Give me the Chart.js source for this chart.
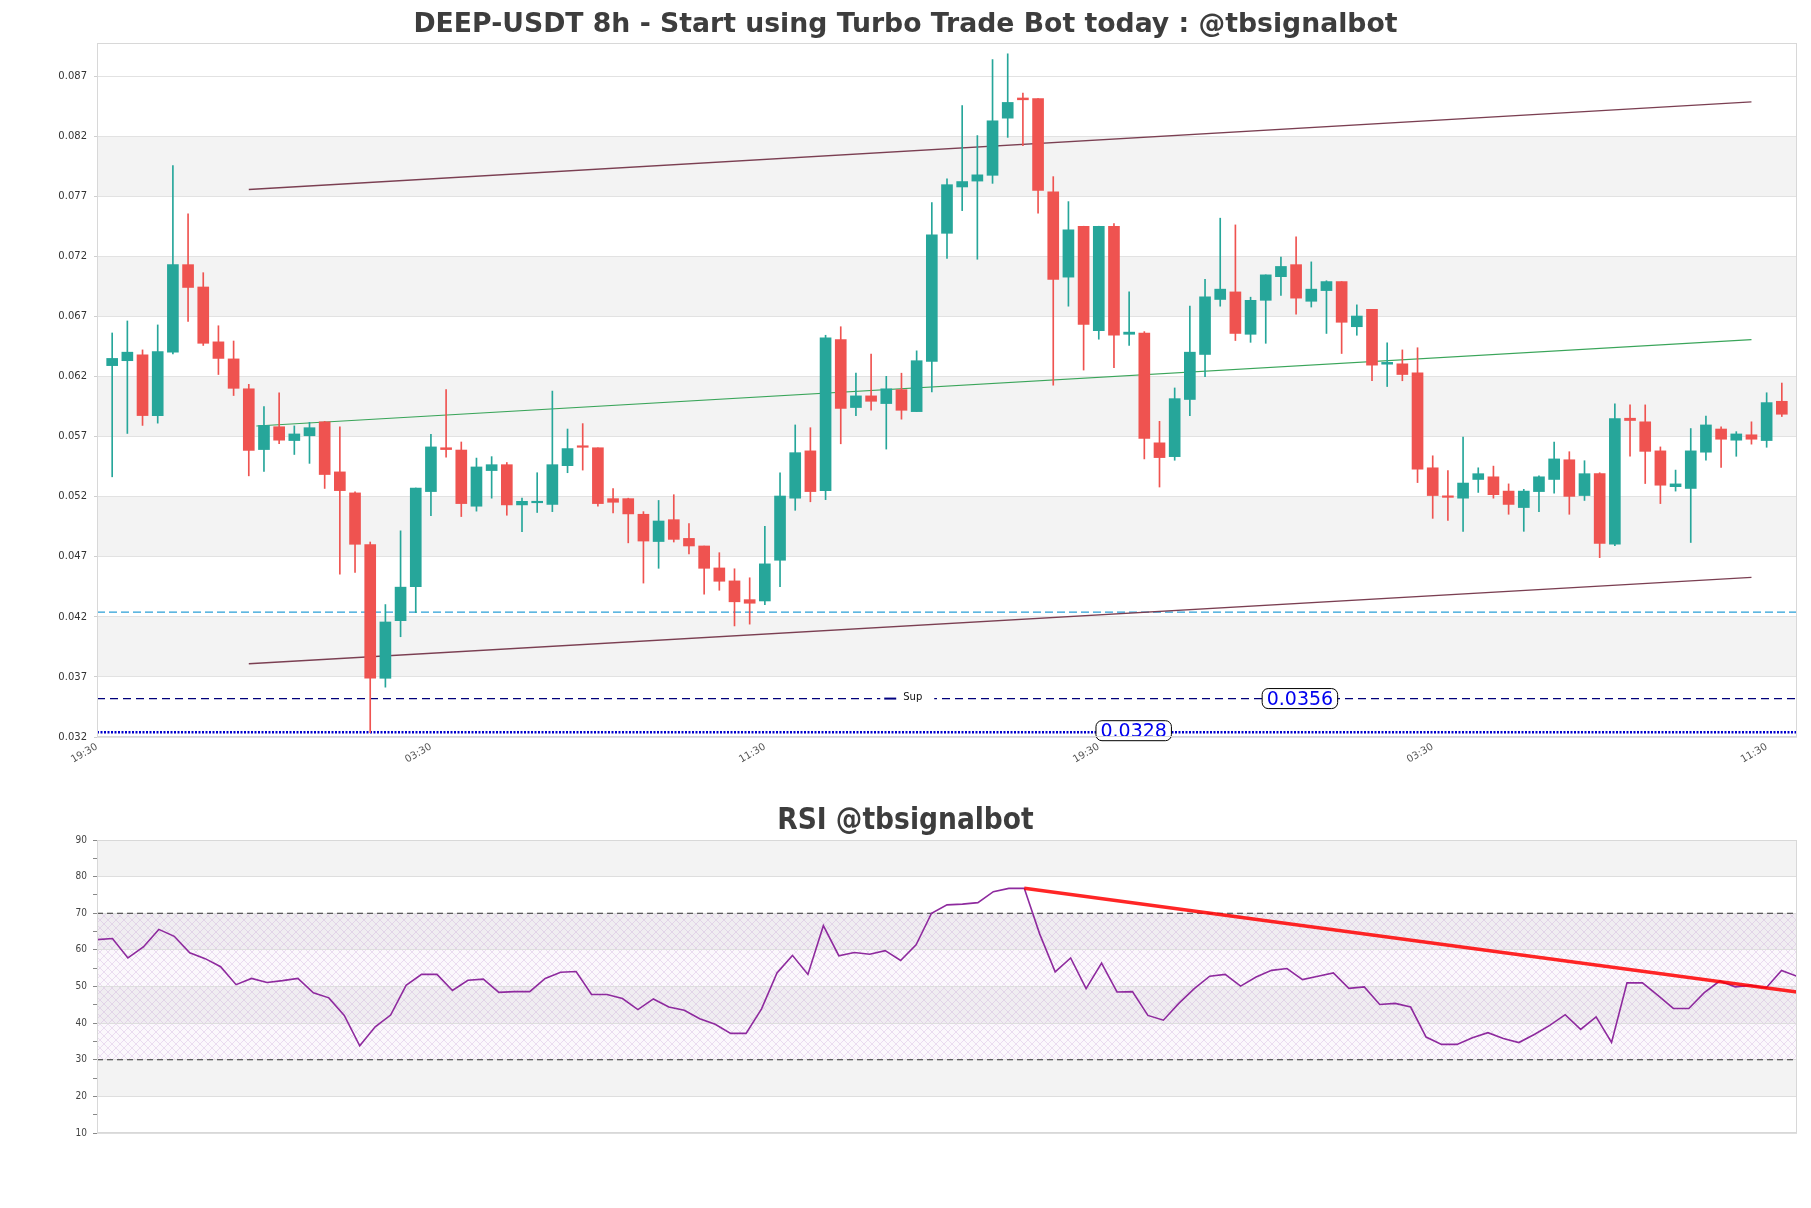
<!DOCTYPE html>
<html lang="en">
<head>
<meta charset="UTF-8">
<title>DEEP-USDT 8h</title>
<style>
    body { margin: 0; background: #fff; }
    .wrap { position: relative; width: 1811px; height: 1208px; }
    canvas { position: absolute; left: 0; }
    #priceChart { top: 0; }
    #rsiChart { top: 780px; }
</style>
<script src="https://cdn.jsdelivr.net/npm/chart.js"></script>
</head>
<body>
<div class="wrap">
    <canvas id="priceChart" width="1811" height="780"></canvas>
    <canvas id="rsiChart" width="1811" height="428"></canvas>
</div>
<script>
    // ---- price data (one candle per 8h) ----
    const opens = [
        0.06333, 0.06374, 0.06423, 0.05917, 0.06445, 0.07174, 0.06988, 0.06531, 0.06389, 0.06140,
        0.05634, 0.05824, 0.05709, 0.05749, 0.05865, 0.05448, 0.05273, 0.04842, 0.03729, 0.04209,
        0.04492, 0.05284, 0.05649, 0.05630, 0.05162, 0.05459, 0.05508, 0.05173, 0.05191, 0.05177,
        0.05500, 0.05664, 0.05649, 0.05225, 0.05225, 0.05095, 0.04868, 0.05050, 0.04894, 0.04831,
        0.04648, 0.04540, 0.04384, 0.04373, 0.04712, 0.05229, 0.05623, 0.05292, 0.06549, 0.05984,
        0.06081, 0.06017, 0.06133, 0.05950, 0.06367, 0.07435, 0.07821, 0.07870, 0.07918, 0.08394,
        0.08562, 0.08558, 0.07781, 0.07070, 0.07494, 0.06624, 0.07494, 0.06594, 0.06605, 0.05690,
        0.05575, 0.06051, 0.06426, 0.06884, 0.06947, 0.06594, 0.06877, 0.07074, 0.07174, 0.06869,
        0.06958, 0.07033, 0.06657, 0.06802, 0.06345, 0.06348, 0.06274, 0.05482, 0.05247, 0.05229,
        0.05385, 0.05407, 0.05288, 0.05151, 0.05284, 0.05385, 0.05549, 0.05251, 0.05433, 0.04845,
        0.05895, 0.05865, 0.05623, 0.05325, 0.05310, 0.05612, 0.05805, 0.05712, 0.05757, 0.05709,
        0.06036
    ];
    const highs = [
        0.06605, 0.06705, 0.06464, 0.06672, 0.08000, 0.07598, 0.07107, 0.06665, 0.06538, 0.06177,
        0.05991, 0.06107, 0.05831, 0.05861, 0.05869, 0.05824, 0.05281, 0.04864, 0.04343, 0.04957,
        0.05314, 0.05761, 0.06133, 0.05697, 0.05563, 0.05575, 0.05526, 0.05229, 0.05441, 0.06121,
        0.05805, 0.05850, 0.05649, 0.05310, 0.05229, 0.05117, 0.05210, 0.05258, 0.05017, 0.04831,
        0.04775, 0.04641, 0.04566, 0.04994, 0.05441, 0.05839, 0.05816, 0.06586, 0.06657, 0.06270,
        0.06430, 0.06244, 0.06270, 0.06456, 0.07691, 0.07888, 0.08499, 0.08249, 0.08882, 0.08930,
        0.08603, 0.08558, 0.07907, 0.07699, 0.07494, 0.07494, 0.07516, 0.06947, 0.06616, 0.05869,
        0.06147, 0.06828, 0.07051, 0.07561, 0.07505, 0.06903, 0.07089, 0.07237, 0.07405, 0.07197,
        0.07040, 0.07033, 0.06839, 0.06802, 0.06523, 0.06464, 0.06482, 0.05582, 0.05459, 0.05738,
        0.05482, 0.05496, 0.05348, 0.05303, 0.05415, 0.05697, 0.05616, 0.05541, 0.05441, 0.06014,
        0.06006, 0.06006, 0.05656, 0.05463, 0.05809, 0.05913, 0.05824, 0.05783, 0.05865, 0.06107,
        0.06188
    ];
    const lows = [
        0.05407, 0.05768, 0.05835, 0.05854, 0.06430, 0.06702, 0.06501, 0.06259, 0.06084, 0.05415,
        0.05452, 0.05682, 0.05593, 0.05519, 0.05310, 0.04596, 0.04611, 0.03276, 0.03655, 0.04075,
        0.04276, 0.05084, 0.05571, 0.05076, 0.05121, 0.05229, 0.05087, 0.04950, 0.05110, 0.05117,
        0.05441, 0.05463, 0.05162, 0.05106, 0.04857, 0.04522, 0.04645, 0.04864, 0.04764, 0.04429,
        0.04462, 0.04165, 0.04180, 0.04343, 0.04492, 0.05128, 0.05199, 0.05217, 0.05682, 0.05917,
        0.05961, 0.05638, 0.05887, 0.05950, 0.06114, 0.07226, 0.07624, 0.07219, 0.07851, 0.08234,
        0.08164, 0.07602, 0.06170, 0.06828, 0.06296, 0.06553, 0.06315, 0.06501, 0.05556, 0.05322,
        0.05545, 0.05917, 0.06240, 0.06828, 0.06542, 0.06527, 0.06519, 0.06918, 0.06761, 0.06821,
        0.06601, 0.06434, 0.06586, 0.06207, 0.06159, 0.06207, 0.05359, 0.05061, 0.05043, 0.04953,
        0.05277, 0.05229, 0.05095, 0.04953, 0.05117, 0.05270, 0.05095, 0.05210, 0.04734, 0.04834,
        0.05578, 0.05351, 0.05184, 0.05288, 0.04860, 0.05545, 0.05485, 0.05578, 0.05679, 0.05653,
        0.05909
    ];
    const closes = [
        0.06393, 0.06445, 0.05917, 0.06449, 0.07174, 0.06984, 0.06519, 0.06393, 0.06144, 0.05627,
        0.05835, 0.05712, 0.05764, 0.05816, 0.05426, 0.05292, 0.04845, 0.03729, 0.04198, 0.04488,
        0.05314, 0.05656, 0.05634, 0.05184, 0.05489, 0.05508, 0.05173, 0.05203, 0.05203, 0.05508,
        0.05642, 0.05653, 0.05184, 0.05195, 0.05098, 0.04872, 0.05039, 0.04886, 0.04831, 0.04645,
        0.04537, 0.04366, 0.04354, 0.04682, 0.05247, 0.05608, 0.05284, 0.06564, 0.05976, 0.06081,
        0.06036, 0.06140, 0.05961, 0.06374, 0.07423, 0.07840, 0.07866, 0.07922, 0.08372, 0.08525,
        0.08547, 0.07792, 0.07051, 0.07464, 0.06676, 0.07494, 0.06586, 0.06612, 0.05727, 0.05567,
        0.06058, 0.06445, 0.06906, 0.06970, 0.06601, 0.06877, 0.07089, 0.07159, 0.06895, 0.06970,
        0.07033, 0.06694, 0.06746, 0.06337, 0.06360, 0.06259, 0.05470, 0.05251, 0.05236, 0.05355,
        0.05433, 0.05258, 0.05177, 0.05288, 0.05407, 0.05556, 0.05244, 0.05433, 0.04853, 0.05891,
        0.05876, 0.05619, 0.05337, 0.05348, 0.05623, 0.05839, 0.05720, 0.05764, 0.05720, 0.06025,
        0.05928
    ];

    const timeTicks = [0, 22, 44, 66, 88, 110];
    const timeLabels = ['19:30', '03:30', '11:30', '19:30', '03:30', '11:30'];
    const priceTicks = [0.0324, 0.0374, 0.0424, 0.0474, 0.0524, 0.0574, 0.0624, 0.0674, 0.0724, 0.0774, 0.0824, 0.0874];

    // trend channel + levels
    const upperChannel = [{ x: 10, y: 0.0780 }, { x: 109, y: 0.0853 }];
    const lowerChannel = [{ x: 10, y: 0.0385 }, { x: 109, y: 0.0457 }];
    const midChannel = [{ x: 10.5, y: 0.0583 }, { x: 109, y: 0.0655 }];
    const pivotLevel = 0.0428;
    const supLevel = 0.0356;
    const lowLevel = 0.0328;

    // ---- RSI ----
    const rsi = [
        62.8, 63.1, 57.8, 60.8, 65.6, 63.7, 59.2, 57.6, 55.4, 50.5,
        52.2, 51.1, 51.6, 52.2, 48.3, 46.9, 42.1, 33.8, 39.0, 42.2,
        50.3, 53.3, 53.3, 48.9, 51.7, 52.0, 48.4, 48.6, 48.6, 52.2,
        53.9, 54.1, 47.8, 47.8, 46.7, 43.7, 46.6, 44.4, 43.5, 41.2,
        39.7, 37.2, 37.2, 43.9, 53.7, 58.5, 53.3, 66.6, 58.4, 59.3,
        58.8, 59.8, 57.1, 61.4, 70.0, 72.3, 72.5, 72.9, 75.9, 76.8,
        76.8, 64.3, 54.0, 57.8, 49.4, 56.4, 48.5, 48.6, 42.1, 40.8,
        45.4, 49.4, 52.8, 53.3, 50.1, 52.6, 54.4, 54.9, 51.9, 52.8,
        53.7, 49.5, 49.9, 45.1, 45.4, 44.4, 36.2, 34.2, 34.2, 36.0,
        37.4, 35.8, 34.7, 36.9, 39.4, 42.3, 38.3, 41.7, 34.7, 51.0,
        51.0, 47.6, 44.0, 44.0, 48.3, 51.5, 49.9, 50.3, 49.6, 54.4,
        52.8
    ];
    const rsiTrend = [{ x: 60, y: 76.8 }, { x: 110, y: 48.5 }];
    const rsiLevels = [70, 30];
    const rsiBands = [[80, 90], [60, 70], [40, 50], [20, 30]];

    const FONT = "'DejaVu Sans', sans-serif";
    const CONDENSED = "'DejaVu Sans Condensed', 'DejaVu Sans', sans-serif";
    const UP = '#26a69a';
    const DOWN = '#ef5350';

    function lineSet(label, points, color, width, dash, order) {
        return {
            type: 'line', label, data: points,
            borderColor: color, borderWidth: width, borderDash: dash || [],
            pointRadius: 0, fill: false, tension: 0, order: order
        };
    }

    function makeHatch(ctx) {
        const c = document.createElement('canvas');
        c.width = 8; c.height = 8;
        const g = c.getContext('2d');
        g.fillStyle = 'rgba(220,195,230,0.12)';
        g.fillRect(0, 0, 8, 8);
        g.strokeStyle = 'rgba(180,125,200,0.32)';
        g.lineWidth = 0.7;
        g.beginPath();
        g.moveTo(0, 0); g.lineTo(8, 8);
        g.moveTo(8, 0); g.lineTo(0, 8);
        g.stroke();
        return ctx.createPattern(c, 'repeat');
    }

    // shaded bands, frame and title
    const panelPlugin = {
        id: 'panel',
        beforeDraw(chart, args, opts) {
            const { ctx, chartArea: a, scales: { y } } = chart;
            ctx.save();
            ctx.fillStyle = '#f3f3f3';
            opts.ranges.forEach(r => {
                const top = y.getPixelForValue(r[1]);
                const bot = y.getPixelForValue(r[0]);
                ctx.fillRect(a.left, top, a.right - a.left, bot - top);
            });
            if (opts.hatch) {
                const top = y.getPixelForValue(opts.hatch[1]);
                const bot = y.getPixelForValue(opts.hatch[0]);
                ctx.fillStyle = makeHatch(ctx);
                ctx.fillRect(a.left, top, a.right - a.left, bot - top);
            }
            ctx.restore();
        },
        afterDraw(chart, args, opts) {
            const { ctx, chartArea: a } = chart;
            ctx.save();
            ctx.strokeStyle = '#d8d8d8';
            ctx.lineWidth = 1;
            ctx.strokeRect(a.left + 0.5, a.top + 0.5, a.right - a.left - 1, a.bottom - a.top - 1);
            ctx.fillStyle = '#3d3d3d';
            ctx.font = opts.titleFont;
            ctx.textAlign = 'center';
            ctx.textBaseline = 'middle';
            ctx.fillText(opts.title, chart.width / 2, opts.titleY);
            ctx.restore();
        }
    };

    function tag(ctx, text, cx, cy) {
        ctx.font = '19px ' + FONT;
        const w = ctx.measureText(text).width + 9;
        const h = 20;
        ctx.beginPath();
        ctx.roundRect(cx - w / 2, cy - h / 2, w, h, 6);
        ctx.fillStyle = '#fff';
        ctx.fill();
        ctx.strokeStyle = '#000';
        ctx.lineWidth = 1;
        ctx.stroke();
        ctx.fillStyle = '#0000ee';
        ctx.textAlign = 'center';
        ctx.textBaseline = 'middle';
        ctx.fillText(text, cx, cy + 1);
    }

    // "Sup" legend and the value boxes on the support / low lines
    const levelTags = {
        id: 'levelTags',
        afterDatasetsDraw(chart) {
            const { ctx, scales: { x, y } } = chart;
            ctx.save();
            const ys = y.getPixelForValue(supLevel);
            const lx = x.getPixelForValue(51.6);
            ctx.fillStyle = '#fff';
            ctx.fillRect(lx, ys - 8, 54, 16);
            ctx.strokeStyle = '#000080';
            ctx.lineWidth = 2;
            ctx.beginPath();
            ctx.moveTo(lx + 4, ys); ctx.lineTo(lx + 16, ys);
            ctx.stroke();
            ctx.fillStyle = '#111';
            ctx.font = '10px ' + FONT;
            ctx.textAlign = 'left';
            ctx.textBaseline = 'middle';
            ctx.fillText('Sup', lx + 23, ys - 1);
            tag(ctx, supLevel.toFixed(4), x.getPixelForValue(79.25), ys);
            tag(ctx, lowLevel.toFixed(4), x.getPixelForValue(68.3), y.getPixelForValue(lowLevel) - 1.5);
            ctx.restore();
        }
    };

    const candleColors = closes.map((c, i) => c >= opens[i] ? UP : DOWN);

    new Chart(document.getElementById('priceChart'), {
        type: 'bar',
        data: {
            datasets: [
                {
                    type: 'bar', label: 'body',
                    data: closes.map((c, i) => ({ x: i + 1, y: [opens[i], c] })),
                    backgroundColor: candleColors, barThickness: 11, minBarLength: 1.5,
                    grouped: false, order: 0
                },
                {
                    type: 'bar', label: 'wick',
                    data: highs.map((h, i) => ({ x: i + 1, y: [lows[i], h] })),
                    backgroundColor: candleColors, barThickness: 1,
                    grouped: false, order: 1
                },
                lineSet('upper', upperChannel, '#7b3f52', 1.3, null, 2),
                lineSet('lower', lowerChannel, '#7b3f52', 1.3, null, 2),
                lineSet('mid', midChannel, '#3aa55a', 1.2, null, 2),
                lineSet('pivot', [{ x: 0, y: pivotLevel }, { x: 112, y: pivotLevel }], '#2a9fd6', 1.2, [8, 4], 3),
                lineSet('Sup', [{ x: 0, y: supLevel }, { x: 112, y: supLevel }], '#00007a', 1.4, [8, 5], 3),
                lineSet('low', [{ x: 0, y: lowLevel }, { x: 112, y: lowLevel }], '#0000cc', 2.5, [2, 1.5], 3)
            ]
        },
        options: {
            responsive: false,
            animation: false,
            devicePixelRatio: 1,
            layout: { padding: { top: 43, right: 14, bottom: 0, left: 0 } },
            scales: {
                x: {
                    type: 'linear', min: 0, max: 112, offset: false,
                    grid: { display: false, drawTicks: false },
                    border: { display: false },
                    afterBuildTicks: s => { s.ticks = timeTicks.map(v => ({ value: v })); },
                    afterFit: s => { s.height = 43; },
                    ticks: {
                        autoSkip: false, minRotation: 30, maxRotation: 30, padding: 4,
                        color: '#555', font: { size: 10, family: FONT },
                        callback: (v, i) => timeLabels[i]
                    }
                },
                y: {
                    min: 0.0324, max: 0.0902,
                    afterBuildTicks: s => { s.ticks = priceTicks.map(v => ({ value: v })); },
                    afterFit: s => { s.width = 97; },
                    grid: { color: '#e2e2e2', tickLength: 3, tickColor: '#cfcfcf' },
                    border: { display: false },
                    ticks: {
                        padding: 7, color: '#333', font: { size: 10, family: FONT },
                        callback: v => v.toFixed(3)
                    }
                }
            },
            plugins: {
                legend: { display: false },
                tooltip: { enabled: false },
                panel: {
                    ranges: [[priceTicks[1], priceTicks[2]], [priceTicks[3], priceTicks[4]], [priceTicks[5], priceTicks[6]],
                             [priceTicks[7], priceTicks[8]], [priceTicks[9], priceTicks[10]]],
                    title: 'DEEP-USDT 8h - Start using Turbo Trade Bot today : @tbsignalbot',
                    titleFont: 'bold 26.7px ' + FONT,
                    titleY: 25
                }
            }
        },
        plugins: [panelPlugin, levelTags]
    });

    new Chart(document.getElementById('rsiChart'), {
        type: 'line',
        data: {
            datasets: [
                lineSet('trend', rsiTrend, 'rgba(255,0,0,0.85)', 3.5, null, 0),
                lineSet('RSI', rsi.map((v, i) => ({ x: i, y: v })), '#8e2a9e', 1.6, null, 1),
                ...rsiLevels.map(l => lineSet('level', [{ x: 0, y: l }, { x: 110, y: l }], '#333', 1.2, [6, 4], 2))
            ]
        },
        options: {
            responsive: false,
            animation: false,
            devicePixelRatio: 1,
            layout: { padding: { top: 60, right: 14, bottom: 75, left: 0 } },
            scales: {
                x: { type: 'linear', min: 0, max: 110, display: false },
                y: {
                    min: 10, max: 90,
                    afterFit: s => { s.width = 97; },
                    border: { display: false },
                    grid: {
                        color: c => (c.tick && c.tick.value % 10 === 0) ? '#dedede' : 'rgba(0,0,0,0)',
                        tickColor: '#888', tickLength: 4
                    },
                    ticks: {
                        stepSize: 5, padding: 6, color: '#444',
                        font: { size: 10, family: CONDENSED },
                        callback: v => v % 10 === 0 ? v : ''
                    }
                }
            },
            plugins: {
                legend: { display: false },
                tooltip: { enabled: false },
                panel: {
                    ranges: rsiBands,
                    hatch: [rsiLevels[1], rsiLevels[0]],
                    title: 'RSI @tbsignalbot',
                    titleFont: 'bold 29.5px ' + CONDENSED,
                    titleY: 41
                }
            }
        },
        plugins: [panelPlugin]
    });
</script>
</body>
</html>
